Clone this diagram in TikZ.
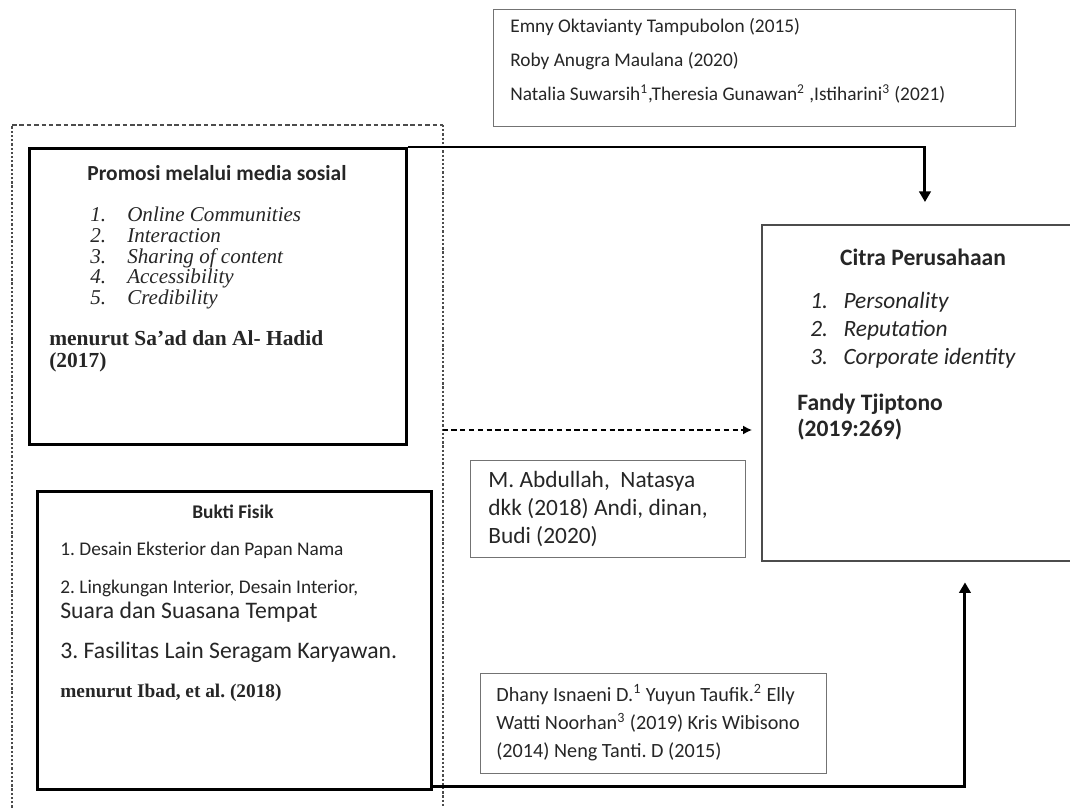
\documentclass[tikz,border=0pt]{standalone}
\usepackage{fontspec}
\setmainfont{Carlito}
\newfontfamily\timesfont{Liberation Serif}
\usetikzlibrary{arrows.meta, positioning, calc}
\frenchspacing

\begin{document}
\begin{tikzpicture}[
    x=0.02cm, y=-0.02cm,
    text=black!85,
    bigbox/.style={rectangle, draw=black, line width=1.7pt, inner sep=0pt, anchor=north west},
    citrabox/.style={rectangle, draw=black!70, line width=1.4pt, inner sep=0pt, anchor=north west},
    refbox/.style={rectangle, draw=black!55, line width=0.8pt, inner sep=0pt, anchor=north west},
    groupframe/.style={rectangle, inner sep=0pt, anchor=north west},
    side_dash/.style={draw=black!70, line width=1pt, dash pattern=on 1.3pt off 1.1pt},
    top_dash/.style={draw=black!70, line width=0.9pt, dash pattern=on 2.6pt off 1.6pt},
    arrow/.style={-{Triangle[length=6pt, width=6.5pt]}, line width=1.7pt},
    dashed_arrow/.style={-{Latex[length=5pt, width=5pt]}, line width=0.8pt, dash pattern=on 3pt off 2pt},
    txt/.style={anchor=west, align=left, inner sep=0pt}
]

\useasboundingbox (0,0) rectangle (1070,807);
\clip (0,0) rectangle (1070,807);
\fill[white] (0,0) rectangle (1070,807);

% Sources above
\node (sources) [refbox, minimum width=10.44cm, minimum height=2.34cm] at (493,9) {};
\node (sourcesText) [txt, font=\fontsize{11}{19.3}\selectfont] at (510,61) {Emny Oktavianty Tampubolon (2015)\\ Roby Anugra Maulana (2020)\\ Natalia Suwarsih\textsuperscript{1},Theresia Gunawan\textsuperscript{2} ,Istiharini\textsuperscript{3} (2021)};

% Independent variables
\node (indep) [groupframe, minimum width=8.6cm, minimum height=14.4cm] at (12,125) {};
\draw [side_dash] (indep.south west) -- (indep.north west);
\draw [top_dash] (indep.north west) -- (indep.north east);
\draw [side_dash] (indep.north east) -- (indep.south east);

\node (promosi) [bigbox, minimum width=7.54cm, minimum height=5.92cm] at (28,147) {};
\node (promosiHead) [font=\bfseries\fontsize{12.2}{14}\selectfont, inner sep=0pt] at (217,173) {Promosi melalui media sosial};
\node (promosiList) [txt, font=\timesfont\itshape\fontsize{12}{11.8}\selectfont] at (90,258) {1.\hspace{12pt}Online Communities\\ 2.\hspace{12pt}Interaction\\ 3.\hspace{12pt}Sharing of content\\ 4.\hspace{12pt}Accessibility\\ 5.\hspace{12pt}Credibility};
\node (promosiCite) [txt, font=\timesfont\bfseries\fontsize{12.2}{12.5}\selectfont] at (49,351) {menurut Sa’ad dan Al- Hadid\\ (2017)};

\node (bukti) [bigbox, minimum width=7.88cm, minimum height=5.96cm] at (36,490) {};
\node (buktiHead) [font=\bfseries\fontsize{11}{13}\selectfont, inner sep=0pt] at (233,512) {Bukti Fisik};
\node (buktiOne) [txt, font=\fontsize{11}{13}\selectfont] at (60,550) {1. Desain Eksterior dan Papan Nama};
\node (buktiTwo) [txt, font=\fontsize{11}{13}\selectfont] at (60,588) {2. Lingkungan Interior, Desain Interior,};
\node (buktiTwoB) [txt, font=\fontsize{13.5}{15}\selectfont] at (60,612) {Suara dan Suasana Tempat};
\node (buktiThree) [txt, font=\fontsize{13.5}{15}\selectfont] at (60,652) {3. Fasilitas Lain Seragam Karyawan.};
\node (buktiCite) [txt, font=\timesfont\bfseries\fontsize{11}{13}\selectfont] at (60,693) {menurut Ibad, et al. (2018)};

% Dependent variable
\node (citra) [citrabox, minimum width=6.8cm, minimum height=6.72cm] at (761,224) {};
\node (citraHead) [font=\bfseries\fontsize{13.4}{16}\selectfont, inner sep=0pt] at (923,257) {Citra Perusahaan};
\node (citraList) [txt, font=\itshape\fontsize{13.3}{15.9}\selectfont] at (810,330) {1.\hspace{8.8pt}Personality\\ 2.\hspace{8.8pt}Reputation\\ 3.\hspace{8.8pt}Corporate identity};
\node (fandy) [txt, font=\bfseries\fontsize{13.4}{15}\selectfont] at (797,404) {Fandy Tjiptono};
\node (fandyYear) [txt, font=\bfseries\fontsize{13.4}{15}\selectfont] at (797,430) {(2019:269)};

% Other sources
\node (abdullah) [refbox, minimum width=5.5cm, minimum height=1.94cm] at (470,460) {};
\node (abdullahText) [txt, font=\fontsize{13.3}{16.2}\selectfont] at (488,509) {M. Abdullah,\ \ Natasya\\ dkk (2018) Andi, dinan,\\ Budi (2020)};
\node (dhany) [refbox, minimum width=6.92cm, minimum height=2cm] at (480,673) {};
\node (dhanyText) [txt, font=\fontsize{11.5}{16}\selectfont] at (496,723) {Dhany Isnaeni D.\textsuperscript{1} Yuyun Taufik.\textsuperscript{2} Elly\\ Watti Noorhan\textsuperscript{3} (2019) Kris Wibisono\\ (2014) Neng Tanti. D (2015)};

% Arrows
\draw [arrow, shorten >=0.44cm] (promosi.north east) -| ([xshift=3.28cm]citra.north west);
\draw [dashed_arrow, shorten >=0.18cm] (indep.east |- fandyYear.west) -- (citra.west |- fandyYear.west);
\draw [arrow, shorten >=0.4cm] ([yshift=0.08cm]bukti.south east) -| ([xshift=4.08cm]citra.south west);

\end{tikzpicture}
\end{document}
